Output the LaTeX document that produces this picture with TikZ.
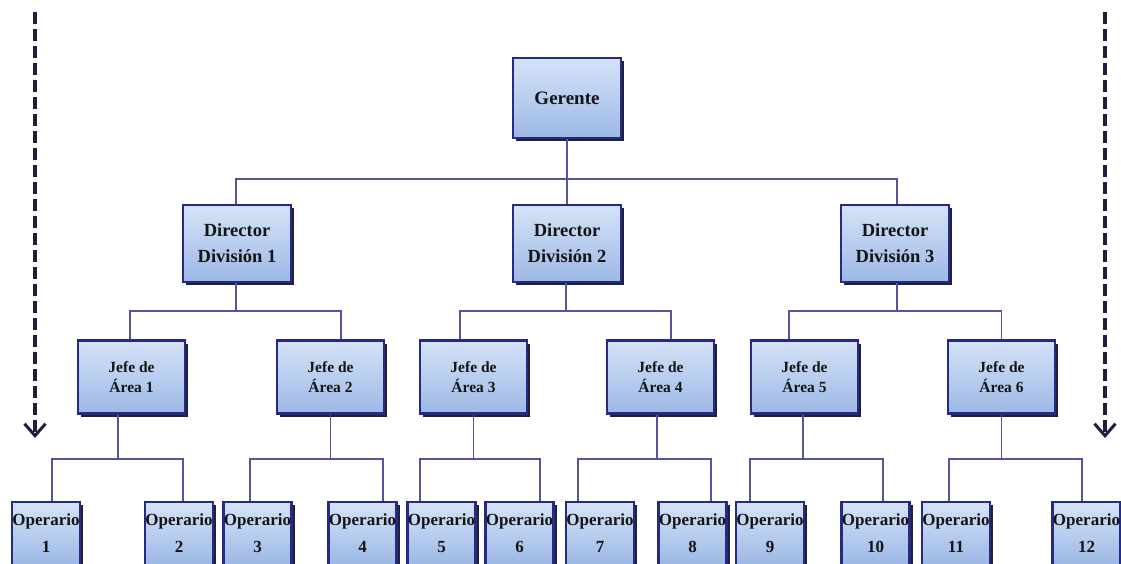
\documentclass[tikz,border=0pt]{standalone}
\usepackage{fontspec}
\setmainfont{Liberation Serif}
\usetikzlibrary{arrows.meta,shadows}
\definecolor{boxline}{HTML}{262A86}
\definecolor{boxtop}{HTML}{D4E3F8}
\definecolor{boxbot}{HTML}{9DB8E6}
\definecolor{boxshadow}{HTML}{202138}
\definecolor{wire}{HTML}{55559F}
\definecolor{dashcol}{HTML}{1E1F3E}
\tikzset{
  orgbox/.style={rectangle, draw=boxline, line width=2.4pt, top color=boxtop, bottom color=boxbot,
    inner sep=0pt, align=center, text=black!92,
    general shadow={shadow xshift=3pt, shadow yshift=-3pt, fill=boxshadow}},
  topbox/.style={orgbox, minimum width=108pt, minimum height=80pt, font=\bfseries\fontsize{19}{24}\selectfont},
  dirbox/.style={orgbox, minimum width=108pt, minimum height=77pt, font=\bfseries\fontsize{18.5}{26}\selectfont},
  jefebox/.style={orgbox, minimum width=107pt, minimum height=73pt, font=\bfseries\fontsize{15.5}{20}\selectfont},
  opbox/.style={orgbox, minimum width=68pt, minimum height=63pt, font=\bfseries\fontsize{17}{27}\selectfont},
  conn/.style={draw=wire, line width=1.8pt},
  levelarrow/.style={draw=dashcol, line width=3.5pt, dash pattern=on 12pt off 5pt,
    -{Straight Barb[length=12pt, width=21pt, line width=3pt]}}
}
\begin{document}
\begin{tikzpicture}[x=1pt, y=-1pt]
  \fill[white] (0,0) rectangle (1121,564);
  \useasboundingbox (0,0) rectangle (1121,564);

  % level markers on both sides
  \coordinate (la) at (35,12);
  \coordinate (lb) at (35,438);
  \coordinate (ra) at (1105,12);
  \coordinate (rb) at (1105,438);
  \draw[levelarrow] (la) -- (lb);
  \draw[levelarrow] (ra) -- (rb);

  % top
  \node[topbox] (G) at (567,98) {Gerente};

  % directors
  \node[dirbox] (D1) at (237,243.5) {Director\\División 1};
  \node[dirbox] (D2) at (567,243.5) {Director\\División 2};
  \node[dirbox] (D3) at (895,243.5) {Director\\División 3};

  % area heads
  \node[jefebox] (J1) at (131.5,377) {Jefe de\\Área 1};
  \node[jefebox] (J2) at (330.5,377) {Jefe de\\Área 2};
  \node[jefebox] (J3) at (473.5,377) {Jefe de\\Área 3};
  \node[jefebox] (J4) at (660.5,377) {Jefe de\\Área 4};
  \node[jefebox] (J5) at (804.5,377) {Jefe de\\Área 5};
  \node[jefebox] (J6) at (1001.5,377) {Jefe de\\Área 6};

  % operators
  \node[opbox] (O1)  at (46,533.5)    {Operario\\1};
  \node[opbox] (O2)  at (179,533.5)   {Operario\\2};
  \node[opbox] (O3)  at (257.5,533.5) {Operario\\3};
  \node[opbox] (O4)  at (362.5,533.5) {Operario\\4};
  \node[opbox] (O5)  at (441.5,533.5) {Operario\\5};
  \node[opbox] (O6)  at (519.5,533.5) {Operario\\6};
  \node[opbox] (O7)  at (600,533.5)   {Operario\\7};
  \node[opbox] (O8)  at (692.5,533.5) {Operario\\8};
  \node[opbox] (O9)  at (770,533.5)   {Operario\\9};
  \node[opbox] (O10) at (875.5,533.5) {Operario\\10};
  \node[opbox] (O11) at (956,533.5)   {Operario\\11};
  \node[opbox] (O12) at (1086.5,533.5){Operario\\12};

  % connectors: manager to directors
  \draw[conn] (G.south) -- ++(0,40) -| ([xshift=-1pt]D1.north);
  \draw[conn] (G.south) -- (D2.north);
  \draw[conn] (G.south) -- ++(0,40) -| ([xshift=2pt]D3.north);

  % directors to area heads
  \draw[conn] ([xshift=-1pt]D1.south) -- ++(0,28) -| ([xshift=-1.5pt]J1.north);
  \draw[conn] ([xshift=-1pt]D1.south) -- ++(0,28) -| ([xshift=10.5pt]J2.north);
  \draw[conn] ([xshift=-1pt]D2.south) -- ++(0,28) -| ([xshift=-13.5pt]J3.north);
  \draw[conn] ([xshift=-1pt]D2.south) -- ++(0,28) -| ([xshift=10.5pt]J4.north);
  \draw[conn] ([xshift=2pt]D3.south) -- ++(0,28) -| ([xshift=-15.5pt]J5.north);
  \draw[conn] ([xshift=2pt]D3.south) -- ++(0,28) -| (J6.north);

  % area heads to operators
  \draw[conn] ([xshift=-13.5pt]J1.south) -- ++(0,44.5) -| ([xshift=6pt]O1.north);
  \draw[conn] ([xshift=-13.5pt]J1.south) -- ++(0,44.5) -| ([xshift=4pt]O2.north);
  \draw[conn] (J2.south) -- ++(0,44.5) -| ([xshift=-7.5pt]O3.north);
  \draw[conn] (J2.south) -- ++(0,44.5) -| ([xshift=20.5pt]O4.north);
  \draw[conn] (J3.south) -- ++(0,44.5) -| ([xshift=-21.5pt]O5.north);
  \draw[conn] (J3.south) -- ++(0,44.5) -| ([xshift=20.5pt]O6.north);
  \draw[conn] ([xshift=-3.5pt]J4.south) -- ++(0,44.5) -| ([xshift=-22pt]O7.north);
  \draw[conn] ([xshift=-3.5pt]J4.south) -- ++(0,44.5) -| ([xshift=18.5pt]O8.north);
  \draw[conn] ([xshift=-1.5pt]J5.south) -- ++(0,44.5) -| ([xshift=-20pt]O9.north);
  \draw[conn] ([xshift=-1.5pt]J5.south) -- ++(0,44.5) -| ([xshift=7.5pt]O10.north);
  \draw[conn] (J6.south) -- ++(0,44.5) -| ([xshift=-7pt]O11.north);
  \draw[conn] (J6.south) -- ++(0,44.5) -| ([xshift=-4.5pt]O12.north);
\end{tikzpicture}
\end{document}
